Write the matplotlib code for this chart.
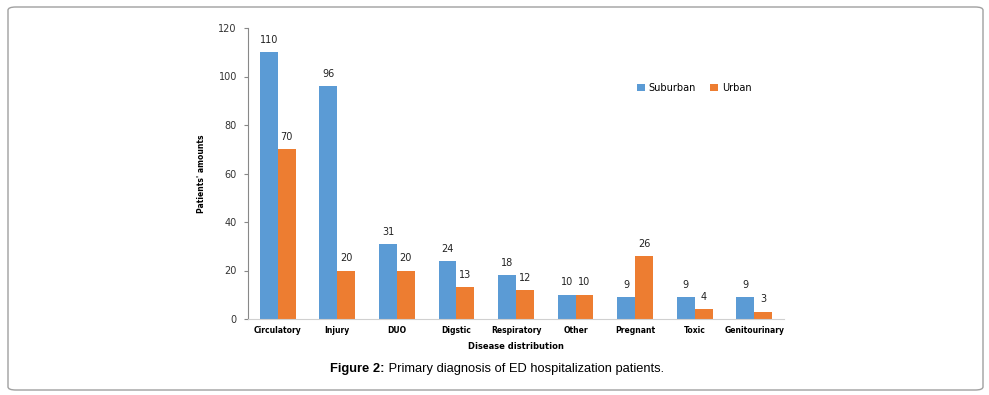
import matplotlib.pyplot as plt
from matplotlib.patches import FancyBboxPatch
import numpy as np

categories = ["Circulatory", "Injury", "DUO", "Digstic", "Respiratory",
              "Other", "Pregnant", "Toxic", "Genitourinary"]
suburban = [110, 96, 31, 24, 18, 10, 9, 9, 9]
urban = [70, 20, 20, 13, 12, 10, 26, 4, 3]

blue = "#5b9bd5"
orange = "#ed7d31"

fig = plt.figure(figsize=(9.89, 3.95), dpi=100)

# outer frame
frame = FancyBboxPatch((8 / 989, 5 / 395), 975 / 989, 383 / 395,
                       boxstyle="round,pad=0,rounding_size=0.008",
                       transform=fig.transFigure, fill=False,
                       edgecolor="#a0a0a0", linewidth=1.0)
fig.patches.append(frame)

ax = fig.add_axes([248 / 989, 1 - 319 / 395, (784 - 248) / 989, (319 - 28) / 395])

x = np.arange(len(categories))
w = 0.3
b1 = ax.bar(x - w / 2, suburban, w, color=blue, label="Suburban")
b2 = ax.bar(x + w / 2, urban, w, color=orange, label="Urban")

for bars, vals in ((b1, suburban), (b2, urban)):
    for r, v in zip(bars, vals):
        ax.text(r.get_x() + r.get_width() / 2, v + 3, str(v),
                ha="center", va="bottom", fontsize=7, color="#222222")

ax.set_xlim(-0.5, len(categories) - 0.5)
ax.set_ylim(0, 120)
ax.set_yticks(range(0, 121, 20))
ax.set_xticks(x)
ax.set_xticklabels(categories, fontsize=5.5, fontweight="bold")
ax.tick_params(axis="y", labelsize=7, length=3, color="#888888", pad=5,
               labelcolor="#333333")
ax.tick_params(axis="x", length=0, pad=5)

for s in ["top", "right"]:
    ax.spines[s].set_visible(False)
ax.spines["left"].set_color("#888888")
ax.spines["bottom"].set_color("#d0d0d0")

ax.set_ylabel("Patients' amounts", fontsize=5.5, fontweight="bold", labelpad=9)
ax.set_xlabel("Disease distribution", fontsize=6, fontweight="bold", labelpad=5)

fig.legend(loc="center left", bbox_to_anchor=(628 / 989, 1 - 88 / 395),
           ncol=2, frameon=False, fontsize=7, handlelength=0.8,
           handleheight=0.8, handletextpad=0.4, columnspacing=1.5)

# caption: bold "Figure 2:" followed by normal text, centred as a whole
cap_y = 1 - 369 / 395
part1 = fig.text(0, cap_y, "Figure 2:", fontsize=9.3, fontweight="bold",
                 family="Liberation Sans", va="center", ha="left")
part2 = fig.text(0, cap_y, " Primary diagnosis of ED hospitalization patients.",
                 fontsize=9.3, family="Liberation Sans", va="center", ha="left")
r = fig.canvas.get_renderer()
w1 = part1.get_window_extent(r).width / fig.bbox.width
w2 = part2.get_window_extent(r).width / fig.bbox.width
x0 = 497 / 989 - (w1 + w2) / 2
part1.set_x(x0)
part2.set_x(x0 + w1)

fig.savefig("out.png", dpi=100)
